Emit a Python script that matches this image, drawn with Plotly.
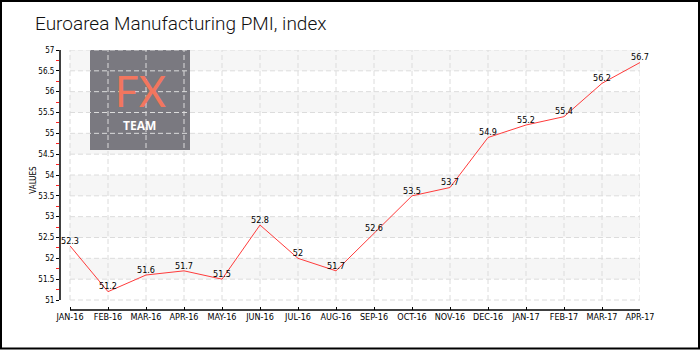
import plotly.graph_objects as go

months = ["JAN-16", "FEB-16", "MAR-16", "APR-16", "MAY-16", "JUN-16", "JUL-16", "AUG-16",
          "SEP-16", "OCT-16", "NOV-16", "DEC-16", "JAN-17", "FEB-17", "MAR-17", "APR-17"]
values = [52.3, 51.2, 51.6, 51.7, 51.5, 52.8, 52.0, 51.7, 52.6, 53.5, 53.7, 54.9, 55.2, 55.4, 56.2, 56.7]
value_labels = ["52.3", "51.2", "51.6", "51.7", "51.5", "52.8", "52", "51.7", "52.6", "53.5",
                "53.7", "54.9", "55.2", "55.4", "56.2", "56.7"]
y_ticks = [51, 51.5, 52, 52.5, 53, 53.5, 54, 54.5, 55, 55.5, 56, 56.5, 57]
y_tick_labels = ["51", "51.5", "52", "52.5", "53", "53.5", "54", "54.5", "55", "55.5", "56", "56.5", "57"]
y_minor = [51.25, 51.75, 52.25, 52.75, 53.25, 53.75, 54.25, 54.75, 55.25, 55.75, 56.25, 56.75]

xs = list(range(len(months)))
W, H = 700, 350
L, R, T, B = 60, 60, 50, 40  # plot area pixels: x 60..640, y 50..310
pw, ph = W - L - R, H - T - B
XU = 38.0            # pixels per month
YU = 250 / 6.0       # pixels per index point

def px(x):
    return (x - L) / pw

def py(y):
    return (H - B - y) / ph

def dx(p):  # pixel -> data x
    return (p - 70) / XU

def dy(p):  # pixel -> data y
    return 57 - (p - 50) / YU

fig = go.Figure()
fig.add_trace(go.Scatter(
    x=xs, y=values, mode="lines+text", text=value_labels, textposition="top center",
    textfont=dict(family="DejaVu Sans Condensed", size=9, color="#000"),
    line=dict(color="#ff3b3b", width=1), hoverinfo="skip", showlegend=False, cliponaxis=False,
))

shapes = []
# alternating bands
for i in range(len(y_ticks) - 1):
    if i % 2 == 1:
        shapes.append(dict(type="rect", xref="x", yref="y", x0=xs[0], x1=xs[-1],
                           y0=y_ticks[i], y1=y_ticks[i + 1], fillcolor="#f6f6f6",
                           line=dict(width=0), layer="below"))
# logo box
shapes.append(dict(type="rect", xref="x", yref="y", x0=dx(90), x1=dx(190),
                   y0=dy(150), y1=dy(50), fillcolor="#7a7980", line=dict(width=0), layer="below"))
# grid lines
for yv in y_ticks:
    shapes.append(dict(type="line", xref="x", yref="y", x0=xs[0], x1=xs[-1], y0=yv, y1=yv,
                       line=dict(color="#dcdcdc", width=1, dash="5px,3px"), layer="below"))
for xv in xs:
    shapes.append(dict(type="line", xref="x", yref="y", x0=xv, x1=xv, y0=y_ticks[0], y1=y_ticks[-1],
                       line=dict(color="#dcdcdc", width=1, dash="5px,3px"), layer="below"))
# axis lines
shapes.append(dict(type="line", xref="x", yref="paper", x0=xs[0], x1=xs[-1], y0=0, y1=0,
                   line=dict(color="#000", width=1.5)))
shapes.append(dict(type="line", xref="paper", yref="y", x0=0, x1=0, y0=y_ticks[0], y1=y_ticks[-1],
                   line=dict(color="#000", width=1.5)))
# outer border
shapes.append(dict(type="rect", xref="paper", yref="paper", x0=px(1), x1=px(699), y0=py(348.5), y1=py(1),
                   line=dict(color="#000", width=2), fillcolor="rgba(0,0,0,0)"))

annotations = [
    dict(text="FX", xref="paper", yref="paper", x=px(140), y=py(91), showarrow=False,
         font=dict(family="Lato", size=42, color="#f2765e"),
         xanchor="center", yanchor="middle"),
    dict(text="<b>TEAM</b>", xref="paper", yref="paper", x=px(139), y=py(125), showarrow=False,
         font=dict(family="Open Sans", size=12, color="#ffffff"),
         xanchor="center", yanchor="middle"),
]

x_lo = -10 / XU
y_lo = 51 - 10 / YU

fig.update_layout(
    width=W, height=H,
    margin=dict(l=L, r=R, t=T, b=B, pad=0),
    paper_bgcolor="#ffffff", plot_bgcolor="#ffffff",
    title=dict(text="Euroarea Manufacturing PMI, index", x=35 / W, xanchor="left",
               y=1 - 23 / H, yanchor="middle",
               font=dict(family="Roboto", size=19, color="#111", weight=300)),
    shapes=shapes, annotations=annotations,
    xaxis=dict(range=[x_lo, xs[-1]], tickmode="array", tickvals=xs, ticktext=months,
               showgrid=False, zeroline=False, showline=False, ticks="inside", ticklen=3,
               tickcolor="#000", tickfont=dict(family="DejaVu Sans Condensed", size=9, color="#000")),
    yaxis=dict(range=[y_lo, y_ticks[-1]], tickmode="array", tickvals=y_ticks, ticktext=y_tick_labels,
               showgrid=False, zeroline=False, showline=False, ticks="outside", ticklen=3,
               tickcolor="#000",
               minor=dict(tickmode="array", tickvals=y_minor, ticks="outside", ticklen=3,
                          tickcolor="#ff2020", showgrid=False),
               tickfont=dict(family="DejaVu Sans Condensed", size=8, color="#000"),
               title=dict(text="VALUES", standoff=0,
                          font=dict(family="DejaVu Sans Condensed", size=8, color="#000"))),
)

fig.write_html("out.html")
